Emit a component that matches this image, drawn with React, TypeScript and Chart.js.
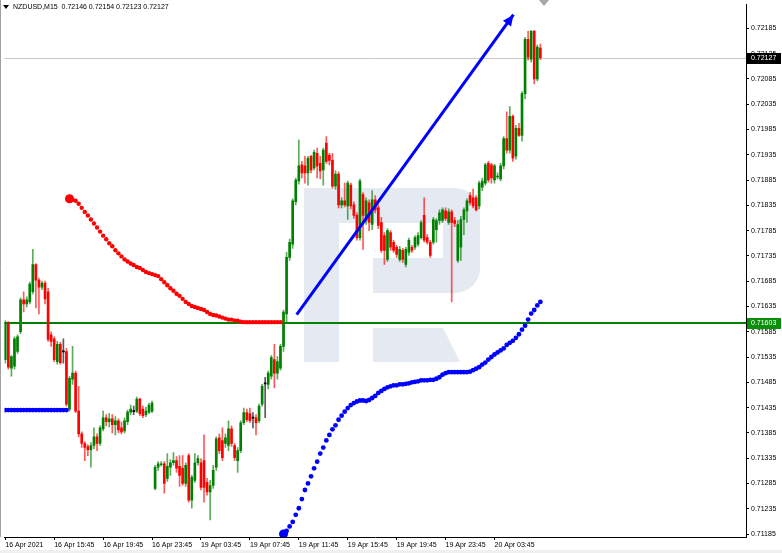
import { useEffect, useRef } from 'react';
import { Chart, registerables } from 'chart.js';

Chart.register(...registerables);

// ---------------- data ----------------
const symbolTitle = 'NZDUSD,M15';
const lastBar = [0.72146, 0.72154, 0.72123, 0.72127]; // O H L C of current bar
const bidPrice = 0.72127;
const levelPrice = 0.71603;

const timeTickIndex = [0, 16, 32, 48, 64, 80, 96, 112, 128, 144, 160];
const timeTickLabels = [
  '16 Apr 2021', '16 Apr 15:45', '16 Apr 19:45', '16 Apr 23:45', '19 Apr 03:45',
  '19 Apr 07:45', '19 Apr 11:45', '19 Apr 15:45', '19 Apr 19:45', '19 Apr 23:45', '20 Apr 03:45',
];
const priceTicks = [
  0.71185, 0.71235, 0.71285, 0.71335, 0.71385, 0.71435, 0.71485, 0.71535, 0.71585, 0.71635, 0.71685,
  0.71735, 0.71785, 0.71835, 0.71885, 0.71935, 0.71985, 0.72035, 0.72085, 0.72135, 0.72185,
];

// [open, high, low, close], M15 bars from 16 Apr 11:45
const ohlc = [
  [0.71530, 0.71607, 0.71523, 0.71603], [0.71603, 0.71605, 0.71511, 0.71515], [0.71513, 0.71538, 0.71497, 0.71536],
  [0.71517, 0.71575, 0.71511, 0.71571], [0.71546, 0.71579, 0.71542, 0.71575], [0.71585, 0.71652, 0.71581, 0.71648],
  [0.71648, 0.71664, 0.71624, 0.71640], [0.71640, 0.71654, 0.71634, 0.71648], [0.71644, 0.71683, 0.71640, 0.71679],
  [0.71664, 0.71748, 0.71660, 0.71718], [0.71718, 0.71720, 0.71632, 0.71687], [0.71687, 0.71691, 0.71620, 0.71673],
  [0.71673, 0.71685, 0.71668, 0.71681], [0.71681, 0.71685, 0.71640, 0.71650], [0.71664, 0.71671, 0.71566, 0.71570],
  [0.71579, 0.71585, 0.71556, 0.71566], [0.71571, 0.71575, 0.71526, 0.71530], [0.71526, 0.71566, 0.71521, 0.71560],
  [0.71560, 0.71564, 0.71521, 0.71524], [0.71546, 0.71571, 0.71523, 0.71546], [0.71546, 0.71552, 0.71438, 0.71442],
  [0.71432, 0.71497, 0.71428, 0.71493], [0.71491, 0.71556, 0.71481, 0.71503], [0.71503, 0.71507, 0.71425, 0.71428],
  [0.71428, 0.71477, 0.71377, 0.71383], [0.71383, 0.71387, 0.71356, 0.71364], [0.71364, 0.71368, 0.71330, 0.71356],
  [0.71358, 0.71362, 0.71340, 0.71352], [0.71352, 0.71366, 0.71317, 0.71360], [0.71360, 0.71395, 0.71354, 0.71377],
  [0.71377, 0.71383, 0.71350, 0.71364], [0.71364, 0.71399, 0.71360, 0.71395], [0.71393, 0.71428, 0.71389, 0.71415],
  [0.71415, 0.71421, 0.71399, 0.71407], [0.71407, 0.71423, 0.71397, 0.71413], [0.71413, 0.71421, 0.71385, 0.71401],
  [0.71401, 0.71417, 0.71381, 0.71409], [0.71409, 0.71413, 0.71385, 0.71391], [0.71395, 0.71407, 0.71383, 0.71387],
  [0.71389, 0.71415, 0.71385, 0.71409], [0.71407, 0.71430, 0.71401, 0.71426], [0.71426, 0.71440, 0.71421, 0.71432],
  [0.71428, 0.71438, 0.71421, 0.71428], [0.71428, 0.71456, 0.71425, 0.71452], [0.71452, 0.71454, 0.71419, 0.71423],
  [0.71432, 0.71438, 0.71415, 0.71419], [0.71421, 0.71436, 0.71417, 0.71428], [0.71426, 0.71444, 0.71423, 0.71440],
  [0.71428, 0.71448, 0.71425, 0.71444],
  // 19 Apr
  [0.71275, 0.71321, 0.71272, 0.71317], [0.71317, 0.71328, 0.71311, 0.71324], [0.71322, 0.71328, 0.71319, 0.71324],
  [0.71324, 0.71328, 0.71266, 0.71285], [0.71295, 0.71344, 0.71289, 0.71319], [0.71317, 0.71332, 0.71301, 0.71326],
  [0.71326, 0.71346, 0.71321, 0.71330], [0.71330, 0.71338, 0.71307, 0.71315], [0.71319, 0.71340, 0.71279, 0.71301],
  [0.71315, 0.71340, 0.71281, 0.71285], [0.71285, 0.71326, 0.71279, 0.71321], [0.71340, 0.71344, 0.71248, 0.71252],
  [0.71252, 0.71301, 0.71236, 0.71297], [0.71291, 0.71344, 0.71287, 0.71326], [0.71326, 0.71340, 0.71321, 0.71334],
  [0.71326, 0.71334, 0.71272, 0.71277], [0.71330, 0.71381, 0.71248, 0.71277], [0.71287, 0.71295, 0.71262, 0.71268],
  [0.71268, 0.71291, 0.71213, 0.71281], [0.71281, 0.71321, 0.71275, 0.71311], [0.71317, 0.71377, 0.71311, 0.71373],
  [0.71375, 0.71383, 0.71344, 0.71350], [0.71370, 0.71395, 0.71330, 0.71336], [0.71364, 0.71383, 0.71356, 0.71375],
  [0.71360, 0.71409, 0.71350, 0.71393], [0.71393, 0.71399, 0.71358, 0.71364], [0.71360, 0.71364, 0.71330, 0.71336],
  [0.71330, 0.71356, 0.71307, 0.71350], [0.71350, 0.71409, 0.71346, 0.71405], [0.71405, 0.71434, 0.71401, 0.71425],
  [0.71425, 0.71432, 0.71407, 0.71411], [0.71423, 0.71434, 0.71405, 0.71409], [0.71415, 0.71425, 0.71395, 0.71415],
  [0.71415, 0.71421, 0.71381, 0.71405], [0.71409, 0.71442, 0.71405, 0.71438], [0.71442, 0.71481, 0.71438, 0.71477],
  [0.71483, 0.71495, 0.71415, 0.71483], [0.71481, 0.71507, 0.71472, 0.71503], [0.71497, 0.71538, 0.71491, 0.71534],
  [0.71530, 0.71560, 0.71474, 0.71503], [0.71503, 0.71536, 0.71491, 0.71526], [0.71513, 0.71560, 0.71509, 0.71556],
  [0.71556, 0.71628, 0.71546, 0.71624], [0.71620, 0.71742, 0.71605, 0.71732], [0.71732, 0.71768, 0.71726, 0.71762],
  [0.71758, 0.71848, 0.71750, 0.71844], [0.71842, 0.71889, 0.71836, 0.71885], [0.71883, 0.71964, 0.71877, 0.71913],
  [0.71915, 0.71922, 0.71889, 0.71899], [0.71913, 0.71932, 0.71879, 0.71899], [0.71899, 0.71932, 0.71875, 0.71928],
  [0.71932, 0.71934, 0.71899, 0.71905], [0.71909, 0.71944, 0.71905, 0.71940], [0.71938, 0.71948, 0.71889, 0.71913],
  [0.71918, 0.71932, 0.71887, 0.71903], [0.71905, 0.71948, 0.71875, 0.71944], [0.71958, 0.71971, 0.71918, 0.71922],
  [0.71934, 0.71938, 0.71915, 0.71924], [0.71924, 0.71938, 0.71869, 0.71873], [0.71873, 0.71903, 0.71867, 0.71897],
  [0.71897, 0.71901, 0.71830, 0.71836], [0.71836, 0.71850, 0.71830, 0.71844], [0.71844, 0.71879, 0.71832, 0.71836],
  [0.71834, 0.71883, 0.71807, 0.71879], [0.71875, 0.71879, 0.71828, 0.71834], [0.71836, 0.71842, 0.71809, 0.71815],
  [0.71815, 0.71820, 0.71766, 0.71771], [0.71771, 0.71887, 0.71766, 0.71883], [0.71856, 0.71860, 0.71748, 0.71815],
  [0.71805, 0.71850, 0.71797, 0.71844], [0.71840, 0.71846, 0.71785, 0.71801], [0.71797, 0.71864, 0.71787, 0.71846],
  [0.71846, 0.71854, 0.71820, 0.71826], [0.71830, 0.71836, 0.71789, 0.71795], [0.71801, 0.71811, 0.71742, 0.71746],
  [0.71775, 0.71781, 0.71718, 0.71746], [0.71728, 0.71789, 0.71724, 0.71785], [0.71781, 0.71785, 0.71746, 0.71752],
  [0.71762, 0.71766, 0.71742, 0.71746], [0.71752, 0.71756, 0.71732, 0.71738], [0.71728, 0.71754, 0.71724, 0.71748],
  [0.71746, 0.71750, 0.71722, 0.71728], [0.71718, 0.71752, 0.71713, 0.71748], [0.71742, 0.71770, 0.71736, 0.71766],
  [0.71752, 0.71756, 0.71742, 0.71746], [0.71752, 0.71775, 0.71748, 0.71771], [0.71758, 0.71781, 0.71754, 0.71775],
  [0.71771, 0.71805, 0.71768, 0.71801], [0.71815, 0.71850, 0.71762, 0.71766], [0.71771, 0.71777, 0.71758, 0.71762],
  [0.71762, 0.71766, 0.71732, 0.71736], [0.71762, 0.71811, 0.71758, 0.71807], [0.71787, 0.71809, 0.71762, 0.71805],
  [0.71805, 0.71826, 0.71797, 0.71820], [0.71805, 0.71830, 0.71801, 0.71826], [0.71824, 0.71830, 0.71805, 0.71809],
  [0.71801, 0.71828, 0.71797, 0.71822], [0.71822, 0.71826, 0.71644, 0.71801], [0.71805, 0.71811, 0.71793, 0.71799],
  [0.71726, 0.71805, 0.71722, 0.71797], [0.71752, 0.71813, 0.71726, 0.71807], [0.71807, 0.71830, 0.71777, 0.71826],
  // 20 Apr
  [0.71824, 0.71848, 0.71801, 0.71844], [0.71854, 0.71860, 0.71836, 0.71840], [0.71850, 0.71867, 0.71830, 0.71834],
  [0.71850, 0.71854, 0.71824, 0.71826], [0.71834, 0.71883, 0.71828, 0.71879], [0.71871, 0.71889, 0.71864, 0.71883],
  [0.71879, 0.71918, 0.71875, 0.71915], [0.71918, 0.71922, 0.71881, 0.71885], [0.71915, 0.71918, 0.71879, 0.71889],
  [0.71885, 0.71916, 0.71879, 0.71913], [0.71891, 0.71899, 0.71887, 0.71893], [0.71887, 0.71918, 0.71883, 0.71913],
  [0.71913, 0.71971, 0.71907, 0.71967], [0.71967, 0.72020, 0.71938, 0.71944], [0.71944, 0.72030, 0.71938, 0.72011],
  [0.72011, 0.72014, 0.71922, 0.71928], [0.71932, 0.71993, 0.71926, 0.71987], [0.71987, 0.71997, 0.71971, 0.71973],
  [0.71973, 0.72060, 0.71962, 0.72056], [0.72056, 0.72167, 0.72046, 0.72163], [0.72163, 0.72179, 0.72122, 0.72128],
  [0.72124, 0.72181, 0.72118, 0.72179], [0.72179, 0.72181, 0.72075, 0.72085], [0.72085, 0.72152, 0.72081, 0.72148],
  [0.72146, 0.72154, 0.72123, 0.72127],
];

// dotted indicator (stop-and-reverse style), one value per bar
const blueFlatStart = 0;
const blueFlat = [
  0.71430, 0.71430, 0.71430, 0.71430, 0.71430, 0.71430, 0.71430, 0.71430, 0.71430, 0.71430, 0.71430,
  0.71430, 0.71430, 0.71430, 0.71430, 0.71430, 0.71430, 0.71430, 0.71430, 0.71430, 0.71430,
];
const redStart = 21;
const redDots = [
  0.71848, 0.71846, 0.71844, 0.71838, 0.71830, 0.71822, 0.71815, 0.71807, 0.71799, 0.71791,
  0.71783, 0.71775, 0.71768, 0.71760, 0.71754, 0.71746, 0.71740, 0.71734, 0.71728, 0.71724,
  0.71720, 0.71717, 0.71713, 0.71711, 0.71707, 0.71703, 0.71701, 0.71699, 0.71697, 0.71695,
  0.71689, 0.71683, 0.71677, 0.71671, 0.71666, 0.71660, 0.71656, 0.71650, 0.71644, 0.71640,
  0.71636, 0.71634, 0.71632, 0.71630, 0.71628, 0.71624, 0.71620, 0.71618, 0.71617, 0.71615,
  0.71613, 0.71611, 0.71609, 0.71609, 0.71607, 0.71607, 0.71605, 0.71604, 0.71604, 0.71604,
  0.71604, 0.71604, 0.71604, 0.71604, 0.71604, 0.71604, 0.71604, 0.71604, 0.71604, 0.71604,
];
const blueRiseStart = 91;
const blueRise = [
  0.71185, 0.71191, 0.71200, 0.71209, 0.71223, 0.71236, 0.71254, 0.71272, 0.71285, 0.71299,
  0.71315, 0.71328, 0.71344, 0.71356, 0.71370, 0.71381, 0.71392, 0.71400, 0.71411, 0.71419,
  0.71427, 0.71434, 0.71440, 0.71444, 0.71447, 0.71449, 0.71449, 0.71448, 0.71450, 0.71454,
  0.71458, 0.71464, 0.71468, 0.71472, 0.71475, 0.71477, 0.71479, 0.71479, 0.71481, 0.71481,
  0.71482, 0.71483, 0.71485, 0.71486, 0.71487, 0.71489, 0.71489, 0.71489, 0.71490, 0.71490,
  0.71492, 0.71495, 0.71500, 0.71503, 0.71505, 0.71505, 0.71505, 0.71505, 0.71505, 0.71505,
  0.71505, 0.71506, 0.71509, 0.71512, 0.71515, 0.71520, 0.71524, 0.71530, 0.71535, 0.71540,
  0.71544, 0.71548, 0.71552, 0.71559, 0.71563, 0.71567, 0.71573, 0.71580, 0.71589, 0.71597,
  0.71609, 0.71621, 0.71628, 0.71637, 0.71644,
];

// trend arrow (bar index, price)
const arrowX = [95.3, 166.2];
const arrowY = [0.71619, 0.72212];

const FONT = "'Liberation Sans', Arial, sans-serif";

const decorPlugin = {
  id: 'decor',
  beforeDatasetsDraw(chart: any) {
    const { ctx, chartArea, scales } = chart;
    ctx.save();
    // watermark logo
    ctx.fillStyle = 'rgb(228,233,242)';
    ctx.fillRect(304, 188, 35, 174);
    ctx.beginPath();
    ctx.moveTo(339, 188);
    ctx.lineTo(455, 188);
    ctx.arcTo(480, 188, 480, 213, 25);
    ctx.lineTo(480, 268);
    ctx.arcTo(480, 293, 455, 293, 25);
    ctx.lineTo(373, 293);
    ctx.lineTo(373, 258);
    ctx.lineTo(443, 258);
    ctx.lineTo(443, 223);
    ctx.lineTo(339, 223);
    ctx.closePath();
    ctx.fill();
    ctx.beginPath();
    ctx.moveTo(373, 328);
    ctx.lineTo(443, 328);
    ctx.lineTo(460, 362);
    ctx.lineTo(373, 362);
    ctx.closePath();
    ctx.fill();
    // bid line
    const yb = Math.round(scales.y.getPixelForValue(bidPrice)) + 0.5;
    ctx.strokeStyle = '#c8c8c8';
    ctx.lineWidth = 1;
    ctx.beginPath();
    ctx.moveTo(chartArea.left, yb);
    ctx.lineTo(chartArea.right, yb);
    ctx.stroke();
    // level line
    const yl = Math.round(scales.y.getPixelForValue(levelPrice));
    ctx.strokeStyle = '#008000';
    ctx.lineWidth = 2;
    ctx.beginPath();
    ctx.moveTo(chartArea.left, yl);
    ctx.lineTo(chartArea.right, yl);
    ctx.stroke();
    ctx.restore();
  },
  afterDatasetsDraw(chart: any) {
    const { ctx } = chart;
    const idx = chart.data.datasets.findIndex((d: any) => d.label === 'arrow');
    const pts = chart.getDatasetMeta(idx).data;
    if (pts.length < 2) return;
    const a = pts[0], b = pts[1];
    const ang = Math.atan2(b.y - a.y, b.x - a.x);
    const len = 11, half = 5;
    const bx = b.x - len * Math.cos(ang), by = b.y - len * Math.sin(ang);
    ctx.save();
    ctx.fillStyle = '#0000ff';
    ctx.beginPath();
    ctx.moveTo(b.x, b.y);
    ctx.lineTo(bx + half * Math.sin(ang), by - half * Math.cos(ang));
    ctx.lineTo(bx - half * Math.sin(ang), by + half * Math.cos(ang));
    ctx.closePath();
    ctx.fill();
    ctx.restore();
  },
  afterDraw(chart: any) {
    const { ctx, chartArea, scales } = chart;
    ctx.save();
    // left frame edge
    ctx.strokeStyle = '#a0a0a0';
    ctx.lineWidth = 1;
    ctx.beginPath();
    ctx.moveTo(0.5, 0);
    ctx.lineTo(0.5, chartArea.bottom);
    ctx.stroke();
    // bottom strip
    ctx.fillStyle = '#f0f0f0';
    ctx.fillRect(0, 550, 782, 3);
    // price boxes
    const box = (price: number, bg: string) => {
      const y = scales.y.getPixelForValue(price);
      ctx.fillStyle = bg;
      ctx.fillRect(chartArea.right + 1, Math.round(y) - 5, 34, 11);
      ctx.fillStyle = '#ffffff';
      ctx.font = `7px ${FONT}`;
      ctx.textBaseline = 'middle';
      ctx.textAlign = 'left';
      ctx.fillText(price.toFixed(5), chartArea.right + 5, Math.round(y) + 0.5);
    };
    box(bidPrice, '#000000');
    box(levelPrice, '#0a8f0a');
    // header
    ctx.fillStyle = '#000';
    ctx.beginPath();
    ctx.moveTo(3, 5);
    ctx.lineTo(9, 5);
    ctx.lineTo(6, 9);
    ctx.closePath();
    ctx.fill();
    ctx.font = `7px ${FONT}`;
    ctx.textBaseline = 'middle';
    ctx.textAlign = 'left';
    ctx.fillText(`${symbolTitle}  ${lastBar.map((v) => v.toFixed(5)).join(' ')}`, 13, 7);
    // chart shift marker
    ctx.fillStyle = '#a8a8a8';
    ctx.beginPath();
    ctx.moveTo(539, 0);
    ctx.lineTo(549, 0);
    ctx.lineTo(544, 6);
    ctx.closePath();
    ctx.fill();
    ctx.restore();
  },
};

export default function App() {
  const ref = useRef<HTMLCanvasElement>(null);
  useEffect(() => {
    document.body.style.margin = '0';
    const canvas = ref.current;
    if (!canvas) return;
    const colorOf = (o: number, c: number, a: number) =>
      c > o ? `rgba(0,128,0,${a})` : c < o ? `rgba(255,0,0,${a})` : `rgba(0,0,0,${a})`;
    const bodyData = ohlc.map(([o, , , c], i) => ({
      x: i,
      y: o === c ? [o - 0.00001, o + 0.00001] : [Math.min(o, c), Math.max(o, c)],
    }));
    const wickData = ohlc.map(([, h, l], i) => ({ x: i, y: [l, h] }));
    const dots = (start: number, arr: number[]) => arr.map((v, k) => ({ x: start + k, y: v }));

    const chart = new Chart(canvas, {
      type: 'bar',
      data: {
        datasets: [
          {
            type: 'line', label: 'arrow',
            data: [{ x: arrowX[0], y: arrowY[0] }, { x: arrowX[1], y: arrowY[1] }],
            borderColor: '#0000ff', borderWidth: 3, pointRadius: 0, order: 0, borderCapStyle: 'butt',
          },
          {
            type: 'line', label: 'blueRise', data: dots(blueRiseStart, blueRise), showLine: false,
            pointRadius: (c: any) => (c.dataIndex === 0 ? 4.5 : 2.4), pointBackgroundColor: '#0000ff',
            pointBorderWidth: 0, order: 1,
          },
          {
            type: 'line', label: 'red', data: dots(redStart, redDots), showLine: false,
            pointRadius: (c: any) => (c.dataIndex === 0 ? 4.5 : 2.2), pointBackgroundColor: '#ff0000',
            pointBorderWidth: 0, order: 1,
          },
          {
            type: 'line', label: 'blueFlat', data: dots(blueFlatStart, blueFlat), showLine: false,
            pointRadius: 2.4, pointBackgroundColor: '#0000ff', pointBorderWidth: 0, order: 1,
          },
          {
            type: 'bar', label: 'bodies', data: bodyData,
            backgroundColor: ohlc.map(([o, , , c]) => colorOf(o, c, 1)),
            barThickness: 2, grouped: false, borderWidth: 0, order: 2,
          },
          {
            type: 'bar', label: 'wicks', data: wickData,
            backgroundColor: ohlc.map(([o, , , c]) => colorOf(o, c, 0.65)),
            barThickness: 1, grouped: false, borderWidth: 0, order: 3,
          },
        ],
      } as any,
      options: {
        animation: false,
        responsive: false,
        maintainAspectRatio: false,
        devicePixelRatio: 1,
        events: [],
        layout: { padding: 0 },
        plugins: { legend: { display: false }, tooltip: { enabled: false } },
        scales: {
          x: {
            type: 'linear',
            min: -0.26,
            max: 242.26,
            offset: false,
            afterBuildTicks: (axis: any) => {
              axis.ticks = timeTickIndex.map((v) => ({ value: v }));
            },
            afterFit: (s: any) => {
              s.height = 16;
              s.paddingLeft = 0;
              s.paddingRight = 0;
            },
            grid: { drawOnChartArea: false, drawTicks: true, tickLength: 3, color: '#000', offset: false },
            border: { display: true, color: '#000', width: 1 },
            ticks: {
              autoSkip: false,
              maxRotation: 0,
              align: 'start',
              padding: 1,
              color: '#000',
              font: { family: FONT, size: 7 },
              callback: (_v: any, i: number) => timeTickLabels[i],
            },
          },
          y: {
            type: 'linear',
            position: 'right',
            min: 0.711791,
            max: 0.722321,
            afterBuildTicks: (axis: any) => {
              axis.ticks = priceTicks.map((v) => ({ value: v }));
            },
            afterFit: (s: any) => {
              s.width = 36;
              s.paddingTop = 0;
              s.paddingBottom = 0;
            },
            grid: { drawOnChartArea: false, drawTicks: true, tickLength: 3, color: '#000' },
            border: { display: true, color: '#000', width: 1 },
            ticks: {
              autoSkip: false,
              padding: 2,
              color: '#000',
              font: { family: FONT, size: 7 },
              callback: (v: any) => Number(v).toFixed(5),
            },
          },
        },
      } as any,
      plugins: [decorPlugin],
    });
    return () => chart.destroy();
  }, []);

  return (
    <div style={{ position: 'fixed', left: 0, top: 0, width: 782, height: 553, background: '#fff' }}>
      <canvas ref={ref} width={782} height={553} style={{ display: 'block', width: 782, height: 553 }} />
    </div>
  );
}
